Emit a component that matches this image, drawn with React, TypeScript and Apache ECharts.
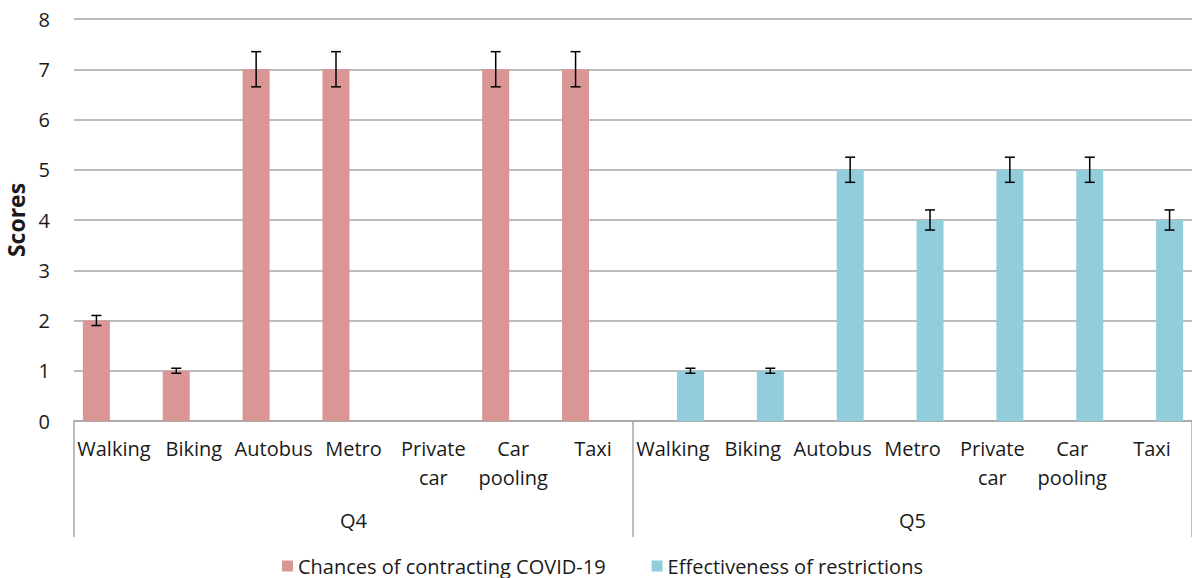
import React, { useEffect, useRef } from "react";
import * as echarts from "echarts";

const groups = ["Q4", "Q5"];
const modes = ["Walking", "Biking", "Autobus", "Metro", "Private\ncar", "Car\npooling", "Taxi"];
const seriesNames = ["Chances of contracting COVID-19", "Effectiveness of restrictions"];
const q4Values = [2, 1, 7, 7, 0, 7, 7];
const q4Errors = [0.1, 0.05, 0.35, 0.35, 0, 0.35, 0.35];
const q5Values = [1, 1, 5, 4, 5, 5, 4];
const q5Errors = [0.05, 0.05, 0.25, 0.2, 0.25, 0.25, 0.2];
const yTicks = [0, 1, 2, 3, 4, 5, 6, 7, 8];

const FONT = "Open Sans";
const TEXT = "#1a1a1a";
const GRID = "#a6a6a6";
const PINK = "#d99694";
const BLUE = "#92cddc";
const BAR_W = 27;
const BAR_OFF = 17.5;

export default function App() {
  const ref = useRef<HTMLDivElement>(null);
  useEffect(() => {
    document.body.style.margin = "0";
    if (!ref.current) return;
    const chart = echarts.init(ref.current, undefined, { renderer: "svg" });

    const categories: string[] = [];
    groups.forEach((g) => modes.forEach((m) => categories.push(g + "|" + m)));
    const n = modes.length;
    const s1: any[] = categories.map((_, i) => (i < n ? q4Values[i] : "-"));
    const s2: any[] = categories.map((_, i) => (i >= n ? q5Values[i - n] : "-"));
    const e1 = q4Values.map((v, i) => [i, v, q4Errors[i]]);
    const e2 = q5Values.map((v, i) => [i + n, v, q5Errors[i]]);

    const makeErr = (offset: number) => (params: any, api: any) => {
      const idx = api.value(0);
      const v = api.value(1);
      const e = api.value(2);
      if (!e) return null;
      const top = api.coord([idx, v + e]);
      const bot = api.coord([idx, v - e]);
      const x = top[0] + offset;
      const cap = 5;
      const style = { stroke: "#000", lineWidth: 1.5 };
      return {
        type: "group",
        children: [
          { type: "line", shape: { x1: x, y1: top[1], x2: x, y2: bot[1] }, style },
          { type: "line", shape: { x1: x - cap, y1: top[1], x2: x + cap, y2: top[1] }, style },
          { type: "line", shape: { x1: x - cap, y1: bot[1], x2: x + cap, y2: bot[1] }, style },
        ],
      };
    };

    chart.setOption({
      animation: false,
      textStyle: { fontFamily: FONT },
      grid: { left: 74, right: 0, top: 19, bottom: 157, containLabel: false, outerBoundsMode: "none" },
      legend: {
        left: 277,
        top: 551,
        itemWidth: 11,
        itemHeight: 11,
        itemGap: 46,
        icon: "rect",
        data: seriesNames,
        textStyle: { fontFamily: FONT, fontSize: 20, color: TEXT },
      },
      xAxis: [
        {
          type: "category",
          data: categories,
          position: "bottom",
          axisLine: { show: true, lineStyle: { color: GRID, width: 1.5 } },
          axisTick: { show: false },
          axisLabel: {
            interval: 0,
            margin: 13,
            fontFamily: FONT,
            fontSize: 20,
            color: TEXT,
            lineHeight: 29,
            formatter: (v: string) => v.split("|")[1],
          },
        },
        {
          type: "category",
          data: groups,
          position: "bottom",
          axisLine: { show: false },
          axisTick: { show: true, length: 116, lineStyle: { color: GRID, width: 1.5 } },
          axisLabel: { margin: 89, fontFamily: FONT, fontSize: 20, color: TEXT },
        },
      ],
      yAxis: {
        type: "value",
        min: yTicks[0],
        max: yTicks[yTicks.length - 1],
        interval: 1,
        name: "Scores",
        nameLocation: "middle",
        nameGap: 41,
        nameTextStyle: { fontFamily: FONT, fontSize: 23, fontWeight: "bold", color: TEXT },
        axisLine: { show: false },
        axisTick: { show: false },
        axisLabel: { margin: 24, fontFamily: FONT, fontSize: 20, color: TEXT },
        splitLine: { lineStyle: { color: GRID, width: 1.5 } },
      },
      series: [
        { name: seriesNames[0], type: "bar", data: s1, barWidth: BAR_W, barGap: "30%", itemStyle: { color: PINK } },
        { name: seriesNames[1], type: "bar", data: s2, barWidth: BAR_W, barGap: "30%", itemStyle: { color: BLUE } },
        { type: "custom", data: e1, encode: { x: 0, y: 1 }, renderItem: makeErr(-BAR_OFF), z: 10, silent: true },
        { type: "custom", data: e2, encode: { x: 0, y: 1 }, renderItem: makeErr(BAR_OFF), z: 10, silent: true },
      ],
    });
    return () => chart.dispose();
  }, []);
  return <div ref={ref} style={{ width: 1192, height: 578 }} />;
}
